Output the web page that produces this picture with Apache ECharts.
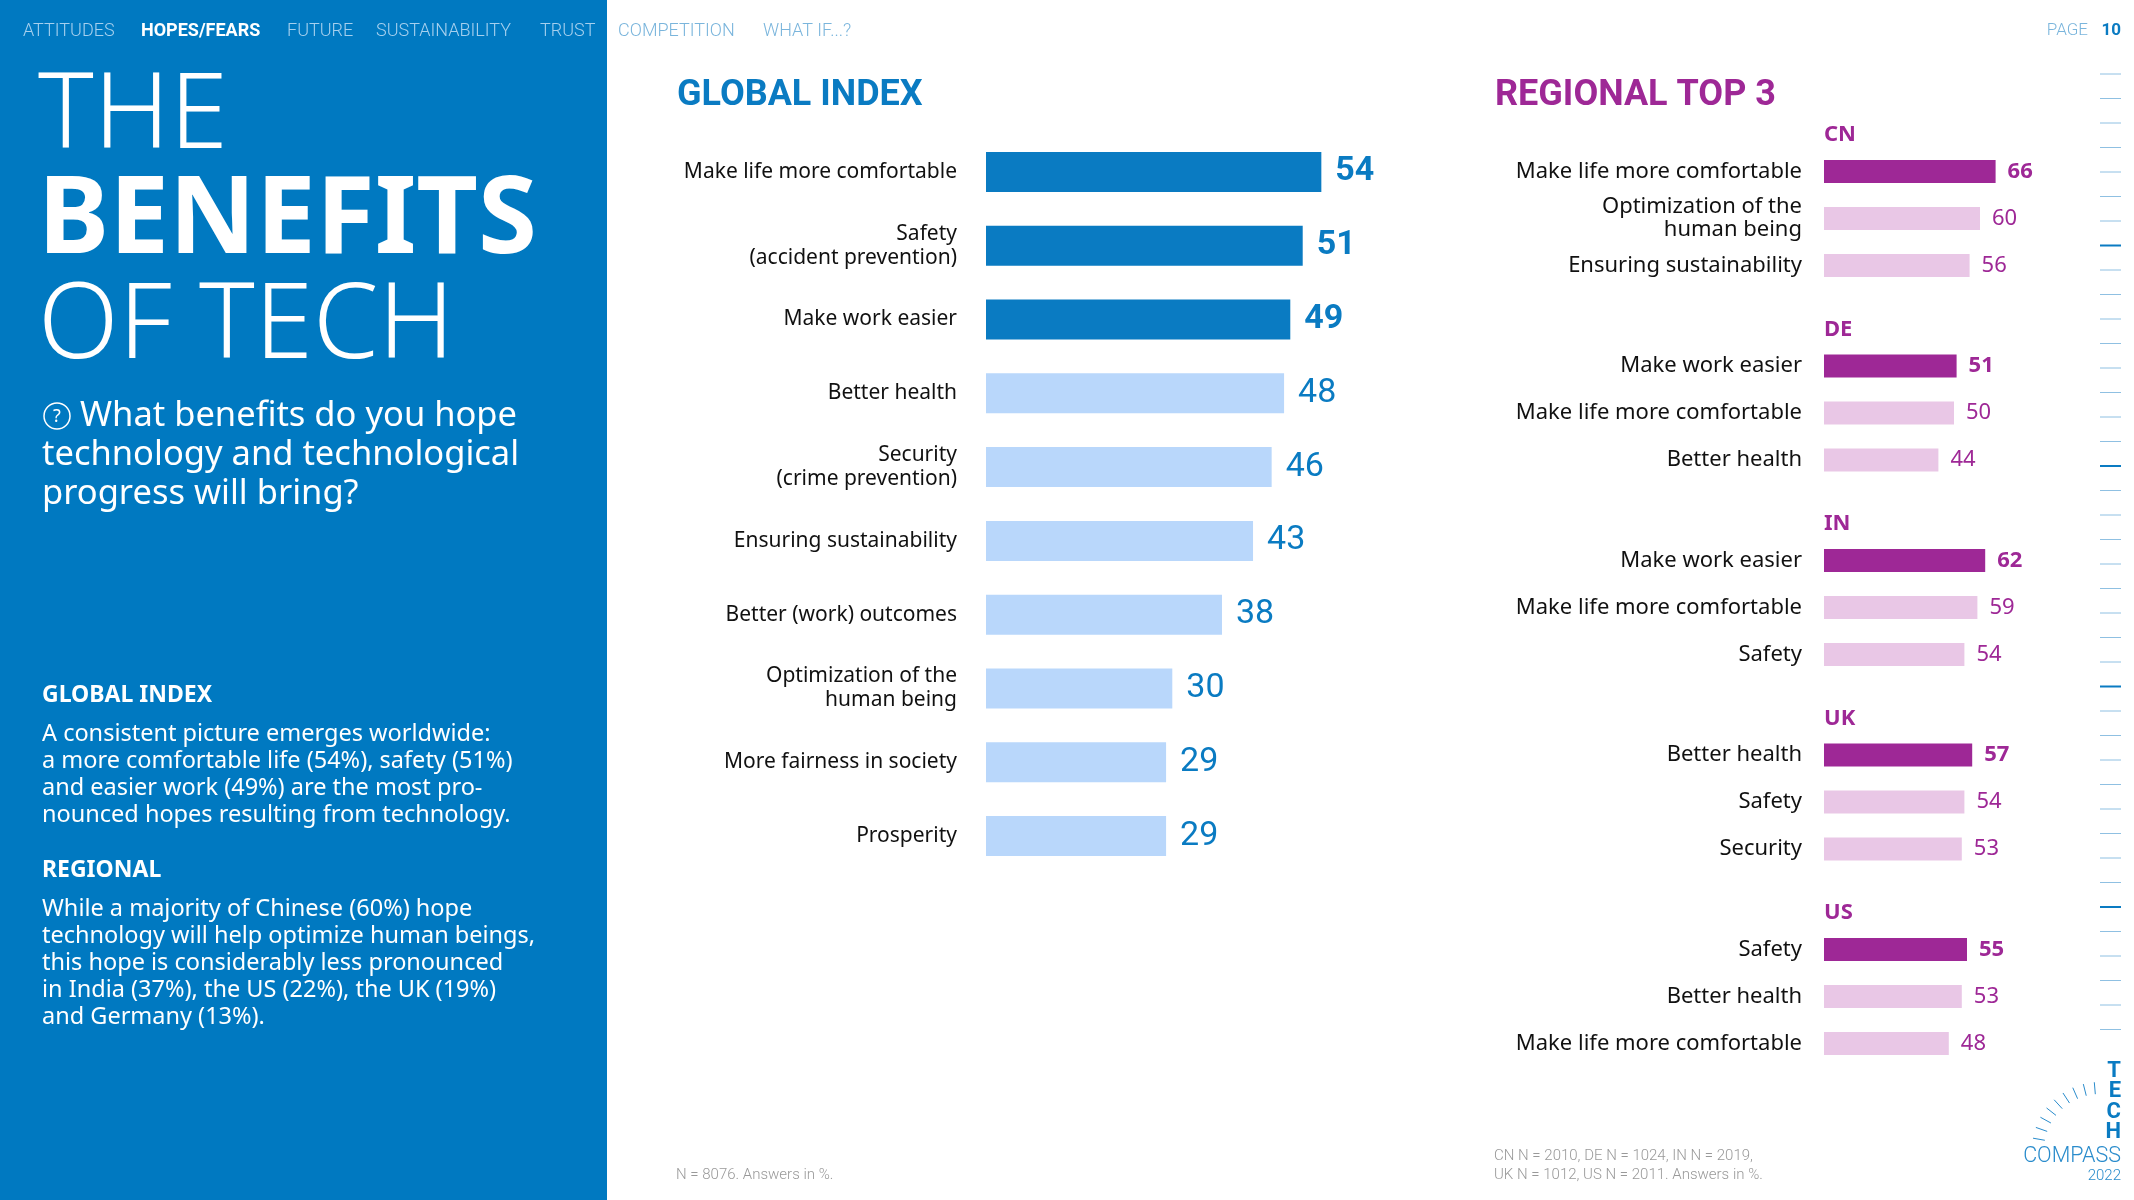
<!DOCTYPE html>
<html>
<head>
<meta charset="utf-8">
<title>The benefits of tech</title>
<script src="https://cdn.jsdelivr.net/npm/echarts@6/dist/echarts.min.js"></script>
<style>
  html, body { margin: 0; padding: 0; background: #fff; }
  #chart { width: 2134px; height: 1200px; }
</style>
</head>
<body>
<div id="chart"></div>
<script>
// global index
var globalCats = ['Make life more comfortable', 'Safety\n(accident prevention)', 'Make work easier',
  'Better health', 'Security\n(crime prevention)', 'Ensuring sustainability',
  'Better (work) outcomes', 'Optimization of the\nhuman being', 'More fairness in society', 'Prosperity'];
var globalVals = [54, 51, 49, 48, 46, 43, 38, 30, 29, 29];

// regional top 3
var regions = ['CN', 'DE', 'IN', 'UK', 'US'];
var cnCats = ['Make life more comfortable', 'Optimization of the\nhuman being', 'Ensuring sustainability'];
var cnVals = [66, 60, 56];
var deCats = ['Make work easier', 'Make life more comfortable', 'Better health'];
var deVals = [51, 50, 44];
var inCats = ['Make work easier', 'Make life more comfortable', 'Safety'];
var inVals = [62, 59, 54];
var ukCats = ['Better health', 'Safety', 'Security'];
var ukVals = [57, 54, 53];
var usCats = ['Safety', 'Better health', 'Make life more comfortable'];
var usVals = [55, 53, 48];

var navItems = ['ATTITUDES', 'HOPES/FEARS', 'FUTURE', 'SUSTAINABILITY', 'TRUST', 'COMPETITION', 'WHAT IF...?'];

var BLUE = '#0a7bc2', LIGHTBLUE = '#b9d7fb', PURPLE = '#9e2896', PINK = '#e9c7e6';
var SANS = '"Noto Sans", "Open Sans", sans-serif';
var COND = 'Roboto, "Noto Sans", sans-serif';

var chart = echarts.init(document.getElementById('chart'));

var regCats = [cnCats, deCats, inCats, ukCats, usCats];
var regVals = [cnVals, deVals, inVals, ukVals, usVals];

var grids = [{ left: 986, top: 135, width: 621, height: 738 }];
var xAxes = [{ gridIndex: 0, type: 'value', min: 0, max: 100, show: false }];
var yAxes = [{
  gridIndex: 0, type: 'category', data: globalCats, inverse: true,
  axisLine: { show: false }, axisTick: { show: false },
  axisLabel: { margin: 29, fontSize: 21, fontFamily: SANS, color: '#111', lineHeight: 24, align: 'right' }
}];
var series = [{
  type: 'bar', xAxisIndex: 0, yAxisIndex: 0, barWidth: 40, silent: true,
  data: globalVals.map(function (v, i) {
    return {
      value: v,
      itemStyle: { color: i < 3 ? BLUE : LIGHTBLUE },
      label: { fontWeight: i < 3 ? 'bold' : 'normal' }
    };
  }),
  label: { show: true, position: 'right', distance: 14, fontSize: 34, fontFamily: COND, color: BLUE }
}];

var graphics = [
  { type: 'rect', shape: { x: 0, y: 0, width: 607, height: 1200 }, style: { fill: '#0079c1' }, z: -10 }
];

regions.forEach(function (r, k) {
  var top = 148 + k * 194.5;
  grids.push({ left: 1824, top: top, width: 260, height: 141 });
  xAxes.push({ gridIndex: k + 1, type: 'value', min: 0, max: 100, show: false });
  yAxes.push({
    gridIndex: k + 1, type: 'category', data: regCats[k], inverse: true,
    axisLine: { show: false }, axisTick: { show: false },
    axisLabel: { margin: 22, fontSize: 22, fontFamily: SANS, color: '#111', lineHeight: 23, align: 'right' }
  });
  series.push({
    type: 'bar', xAxisIndex: k + 1, yAxisIndex: k + 1, barWidth: 23, silent: true,
    data: regVals[k].map(function (v, i) {
      return {
        value: v,
        itemStyle: { color: i === 0 ? PURPLE : PINK },
        label: { fontWeight: i === 0 ? 'bold' : 'normal' }
      };
    }),
    label: { show: true, position: 'right', distance: 12, fontSize: 22, fontFamily: SANS, color: PURPLE }
  });
  graphics.push({ type: 'text', x: 1824, y: top - 13, style: {
    text: r, font: 'bold 22px ' + SANS, fill: PURPLE, verticalAlign: 'middle' } });
});

// top navigation
var navX = [23, 141, 287, 376, 540, 618, 763];
navItems.forEach(function (t, i) {
  var onWhite = navX[i] > 607;
  graphics.push({ type: 'text', x: navX[i], y: 31, style: {
    text: t, font: (i === 1 ? 'bold ' : '300 ') + '18px ' + COND,
    fill: i === 1 ? '#fff' : (onWhite ? '#7ab5dc' : '#a6d0ee'), verticalAlign: 'middle' } });
});
graphics.push({ type: 'text', x: 2088, y: 31, style: { text: 'PAGE', font: '300 17px ' + COND, fill: '#7ab5dc', align: 'right', verticalAlign: 'middle' } });
graphics.push({ type: 'text', x: 2121, y: 31, style: { text: '10', font: 'bold 17px ' + COND, fill: BLUE, align: 'right', verticalAlign: 'middle' } });

// left panel headline and text
graphics.push({ type: 'text', x: 38, y: 118, style: { text: 'THE', font: '300 105px ' + SANS, fill: '#fff', verticalAlign: 'middle' } });
graphics.push({ type: 'text', x: 38, y: 223, style: { text: 'BENEFITS', font: 'bold 107px ' + SANS, fill: '#fff', verticalAlign: 'middle' } });
graphics.push({ type: 'text', x: 38, y: 328, style: { text: 'OF TECH', font: '300 105px ' + SANS, fill: '#fff', verticalAlign: 'middle' } });
graphics.push({ type: 'circle', shape: { cx: 57, cy: 416, r: 13 }, style: { fill: 'none', stroke: '#fff', lineWidth: 1.5 } });
graphics.push({ type: 'text', x: 57, y: 417, style: { text: '?', font: '18px ' + SANS, fill: '#fff', align: 'center', verticalAlign: 'middle' } });
graphics.push({ type: 'text', x: 80, y: 416, style: { text: 'What benefits do you hope', font: '34.5px ' + SANS, fill: '#fff', verticalAlign: 'middle' } });
graphics.push({ type: 'text', x: 42, y: 455, style: { text: 'technology and technological', font: '34.5px ' + SANS, fill: '#fff', verticalAlign: 'middle' } });
graphics.push({ type: 'text', x: 42, y: 494, style: { text: 'progress will bring?', font: '34.5px ' + SANS, fill: '#fff', verticalAlign: 'middle' } });

graphics.push({ type: 'text', x: 42, y: 695, style: { text: 'GLOBAL INDEX', font: 'bold 23px ' + SANS, fill: '#fff', verticalAlign: 'middle' } });
graphics.push({ type: 'text', x: 42, y: 721, style: {
  text: 'A consistent picture emerges worldwide:\na more comfortable life (54%), safety (51%)\nand easier work (49%) are the most pro-\nnounced hopes resulting from technology.',
  font: '23.5px ' + SANS, lineHeight: 27, fill: '#fff' } });
graphics.push({ type: 'text', x: 42, y: 870, style: { text: 'REGIONAL', font: 'bold 23px ' + SANS, fill: '#fff', verticalAlign: 'middle' } });
graphics.push({ type: 'text', x: 42, y: 896, style: {
  text: 'While a majority of Chinese (60%) hope\ntechnology will help optimize human beings,\nthis hope is considerably less pronounced\nin India (37%), the US (22%), the UK (19%)\nand Germany (13%).',
  font: '23.5px ' + SANS, lineHeight: 27, fill: '#fff' } });

// section headings and notes
graphics.push({ type: 'text', x: 677, y: 96, style: { text: 'GLOBAL INDEX', font: 'bold 36px ' + COND, fill: BLUE, verticalAlign: 'middle' } });
graphics.push({ type: 'text', x: 1495, y: 96, style: { text: 'REGIONAL TOP 3', font: 'bold 36px ' + COND, fill: PURPLE, verticalAlign: 'middle' } });
graphics.push({ type: 'text', x: 676, y: 1175, style: { text: 'N = 8076. Answers in %.', font: '300 15px ' + COND, fill: '#999', verticalAlign: 'middle' } });
graphics.push({ type: 'text', x: 1494, y: 1147, style: { text: 'CN N = 2010, DE N = 1024, IN N = 2019,\nUK N = 1012, US N = 2011. Answers in %.', font: '300 15px ' + COND, lineHeight: 19, fill: '#999' } });

// page ruler on the right
for (var t = 0; t < 40; t++) {
  var dark = (t % 9 === 7);
  graphics.push({ type: 'line', shape: { x1: 2100, y1: 74 + t * 24.5, x2: 2121, y2: 74 + t * 24.5 },
    style: { stroke: dark ? BLUE : '#8fc0e2', lineWidth: dark ? 2 : 1 } });
}

// tech compass logo
['T', 'E', 'C', 'H'].forEach(function (c, i) {
  graphics.push({ type: 'text', x: 2121, y: 1071 + i * 20.5, style: { text: c, font: 'bold 22px ' + COND, fill: BLUE, align: 'right', verticalAlign: 'middle' } });
});
graphics.push({ type: 'text', x: 2121, y: 1157, style: { text: 'COMPASS', font: '300 21.5px ' + COND, fill: '#2a8ccc', align: 'right', verticalAlign: 'middle' } });
graphics.push({ type: 'text', x: 2121, y: 1176, style: { text: '2022', font: '300 15px ' + COND, fill: '#2a8ccc', align: 'right', verticalAlign: 'middle' } });
for (var a = 0; a < 9; a++) {
  var ang = Math.PI * (190 + a * 9.4) / 180;
  var cx = 2100, cy = 1150;
  graphics.push({ type: 'line', shape: {
    x1: cx + Math.cos(ang) * 56, y1: cy + Math.sin(ang) * 56,
    x2: cx + Math.cos(ang) * 68, y2: cy + Math.sin(ang) * 68 },
    style: { stroke: '#2a8ccc', lineWidth: 1 } });
}

chart.setOption({
  animation: false,
  backgroundColor: '#fff',
  grid: grids,
  xAxis: xAxes,
  yAxis: yAxes,
  series: series,
  graphic: graphics
});
</script>
</body>
</html>
